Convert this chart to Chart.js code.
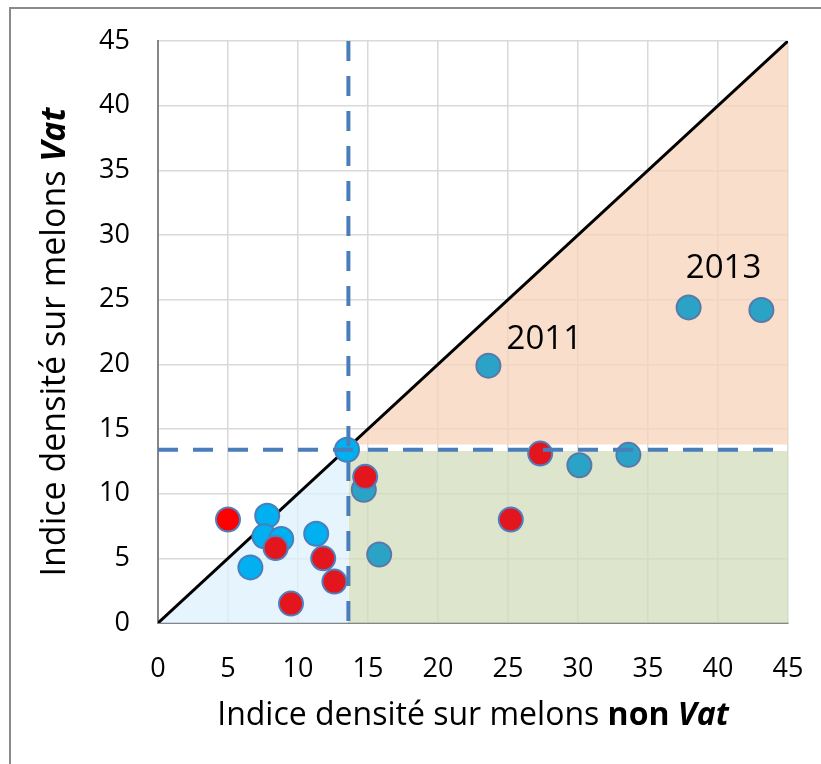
<!DOCTYPE html>
<html>
<head>
<meta charset="utf-8">
<script src="https://cdn.jsdelivr.net/npm/chart.js@4.4.1/dist/chart.umd.min.js"></script>
<style>
  html, body { margin: 0; padding: 0; background: #fff; }
  #wrap { width: 821px; height: 764px; }
</style>
</head>
<body>
<div id="wrap"><canvas id="densChart" width="821" height="764"></canvas></div>
<script>
// points (x = non Vat, y = Vat)
const blueX = [7.8, 7.6, 8.8, 6.6, 11.3, 13.5]
const blueY = [8.3, 6.7, 6.5, 4.3, 6.9, 13.4]
const tealX = [14.7, 15.8, 23.6, 30.1, 33.6, 37.9, 43.1]
const tealY = [10.3, 5.3, 19.9, 12.2, 13.0, 24.4, 24.2]
const redX = [5.0]
const redY = [8.0]
const darkRedX = [8.4, 11.8, 12.6, 9.5, 14.8, 25.2, 27.3]
const darkRedY = [5.8, 5.0, 3.2, 1.5, 11.3, 8.0, 13.1]

const thresholdX = 13.6
const thresholdY = 13.4
const axisMax = 45
const tickStep = 5

const yearLabels = ['2011', '2013']
const yearLabelX = [24.9, 37.7]
const yearLabelY = [21.9, 27.4]

const FONT = '"Open Sans", "Liberation Sans", sans-serif'

const toPoints = (xs, ys) => xs.map((v, i) => ({x: v, y: ys[i]}))

const pointStyle = (fill, border) => ({
    type: 'scatter',
    backgroundColor: fill,
    borderColor: border,
    borderWidth: 2,
    pointRadius: 12,
    pointHoverRadius: 12,
    showLine: false
})

const lineStyle = (color, width, dash) => ({
    type: 'scatter',
    showLine: true,
    borderColor: color,
    borderWidth: width,
    borderDash: dash || [],
    pointRadius: 0,
    pointHoverRadius: 0,
    fill: false
})

const xParts = [
    {text: 'Indice densité sur melons ', font: '400 32px ' + FONT},
    {text: 'non ', font: '700 32px ' + FONT},
    {text: 'Vat', font: 'italic 700 32px ' + FONT}
]
const yParts = [
    {text: 'Indice densité sur melons ', font: '400 34px ' + FONT},
    {text: 'Vat', font: 'italic 700 34px ' + FONT}
]

const drawMixed = (c, parts, cx, cy) => {
    let total = 0
    parts.forEach(p => { c.font = p.font; total += c.measureText(p.text).width })
    let x = cx - total / 2
    c.textAlign = 'left'
    c.textBaseline = 'middle'
    c.fillStyle = '#000'
    parts.forEach(p => {
        c.font = p.font
        c.fillText(p.text, x, cy)
        x += c.measureText(p.text).width
    })
}

const extrasPlugin = {
    id: 'extras',
    afterDraw(chart) {
        const c = chart.ctx
        const sx = chart.scales.x
        const sy = chart.scales.y
        c.save()
        // outer frame (top and left only)
        c.strokeStyle = '#8a8a8a'
        c.lineWidth = 2
        c.beginPath()
        c.moveTo(10, 764)
        c.lineTo(10, 8)
        c.lineTo(821, 8)
        c.stroke()

        drawMixed(c, xParts, (sx.left + sx.right) / 2, 716)

        c.save()
        c.translate(55, 342)
        c.rotate(-Math.PI / 2)
        drawMixed(c, yParts, 0, 0)
        c.restore()

        c.font = '400 33px ' + FONT
        c.fillStyle = '#000'
        c.textAlign = 'left'
        c.textBaseline = 'middle'
        yearLabels.forEach((t, i) => {
            c.fillText(t, sx.getPixelForValue(yearLabelX[i]), sy.getPixelForValue(yearLabelY[i]))
        })
        c.restore()
    }
}

const datasets = [
    // threshold dashed lines, on top
    Object.assign(lineStyle('#4a7ebb', 4, [20, 15]), {
        data: [{x: thresholdX, y: axisMax}, {x: thresholdX, y: 0}], order: 0
    }),
    Object.assign(lineStyle('#4a7ebb', 4, [20, 15]), {
        data: [{x: 0, y: thresholdY}, {x: axisMax, y: thresholdY}], order: 0
    }),
    Object.assign(pointStyle('#ff0000', '#4f7fbf'), {data: toPoints(redX, redY), order: 1}),
    Object.assign(pointStyle('#e2161c', '#4f7fbf'), {data: toPoints(darkRedX, darkRedY), order: 1}),
    Object.assign(pointStyle('#00b0f0', '#4a7ebb'), {data: toPoints(blueX, blueY), order: 2}),
    Object.assign(pointStyle('#2aa3c6', '#5a79a8'), {data: toPoints(tealX, tealY), order: 2}),
    // diagonal y = x
    Object.assign(lineStyle('#000000', 3), {
        data: [{x: 0, y: 0}, {x: axisMax, y: axisMax}], order: 3
    }),
    // shaded zones
    Object.assign(lineStyle('rgba(0,0,0,0)', 0), {
        data: [{x: 0, y: 0}, {x: thresholdX, y: thresholdX}],
        fill: 'origin', backgroundColor: 'rgba(220,240,252,0.75)', order: 4
    }),
    Object.assign(lineStyle('rgba(0,0,0,0)', 0), {
        data: [{x: thresholdX, y: thresholdY - 0.1}, {x: axisMax, y: thresholdY - 0.1}],
        fill: 'origin', backgroundColor: 'rgba(210,222,187,0.75)', order: 4
    }),
    Object.assign(lineStyle('rgba(0,0,0,0)', 0), {
        data: [{x: thresholdY + 0.4, y: thresholdY + 0.4}, {x: axisMax, y: axisMax}],
        fill: {value: thresholdY + 0.4}, backgroundColor: 'rgba(247,211,186,0.75)', order: 4
    })
]

new Chart(document.getElementById('densChart'), {
    type: 'scatter',
    data: {datasets},
    options: {
        responsive: false,
        animation: false,
        layout: {autoPadding: false, padding: {top: 41, right: 33, left: 0, bottom: 0}},
        plugins: {legend: {display: false}, tooltip: {enabled: false}},
        scales: {
            x: {
                min: 0, max: axisMax,
                ticks: {stepSize: tickStep, color: '#000', padding: 30, font: {family: FONT, size: 27}},
                grid: {color: '#d9d9d9', lineWidth: 1.5, drawTicks: false},
                border: {color: '#868686', width: 2},
                afterFit: s => { s.height = 141; s.paddingLeft = 0; s.paddingRight = 0 }
            },
            y: {
                min: 0, max: axisMax,
                ticks: {stepSize: tickStep, color: '#000', padding: 28, font: {family: FONT, size: 27}},
                grid: {color: '#d9d9d9', lineWidth: 1.5, drawTicks: false},
                border: {color: '#868686', width: 2},
                afterFit: s => { s.width = 158; s.paddingTop = 0; s.paddingBottom = 0 }
            }
        }
    },
    plugins: [extrasPlugin]
})
</script>
</body>
</html>
